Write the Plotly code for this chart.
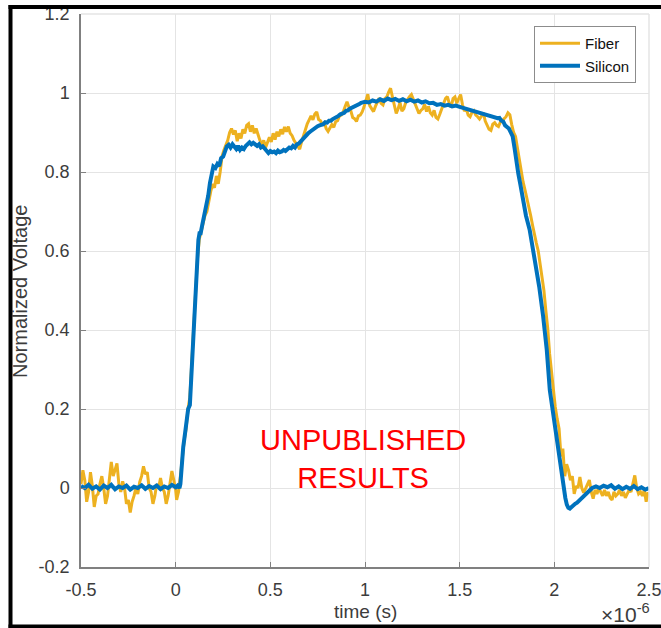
import plotly.graph_objects as go

# ---------------- data (time in microseconds, normalized voltage) ----------------
FIBER_BASELINE = [
    (-0.50, 0.010), (-0.49, 0.045), (-0.48, 0.020), (-0.47, -0.035), (-0.46, -0.010),
    (-0.45, 0.040), (-0.44, 0.005), (-0.43, -0.048), (-0.42, -0.020), (-0.41, -0.015),
    (-0.40, 0.010), (-0.39, 0.030), (-0.38, 0.000), (-0.37, -0.040), (-0.36, -0.020),
    (-0.35, 0.020), (-0.34, 0.066), (-0.33, 0.030), (-0.32, 0.045), (-0.31, 0.062),
    (-0.30, 0.010), (-0.29, -0.010), (-0.28, 0.017), (-0.27, 0.000), (-0.26, -0.040),
    (-0.25, -0.030), (-0.24, -0.062), (-0.23, -0.035), (-0.22, -0.020), (-0.21, 0.000),
    (-0.20, -0.015), (-0.19, 0.015), (-0.18, 0.030), (-0.17, 0.055), (-0.16, 0.035),
    (-0.15, 0.040), (-0.14, 0.000), (-0.13, -0.010), (-0.12, -0.040), (-0.11, -0.020),
    (-0.10, 0.010), (-0.09, 0.000), (-0.08, 0.025), (-0.07, 0.000), (-0.06, -0.010),
    (-0.05, -0.040), (-0.04, -0.020), (-0.03, 0.015), (-0.02, 0.043), (-0.01, 0.020),
    (0.000, -0.005), (0.005, -0.030), (0.015, -0.010),
]
FIBER_RISE = [
    (0.025, 0.030), (0.035, 0.080), (0.045, 0.120), (0.055, 0.150), (0.065, 0.200),
    (0.075, 0.230), (0.085, 0.320), (0.095, 0.400), (0.105, 0.500), (0.115, 0.580),
    (0.125, 0.630), (0.135, 0.650), (0.145, 0.670), (0.155, 0.690), (0.165, 0.700),
    (0.175, 0.730), (0.185, 0.750), (0.195, 0.770), (0.205, 0.760), (0.215, 0.790),
    (0.225, 0.770), (0.235, 0.800), (0.245, 0.840), (0.255, 0.856), (0.265, 0.870),
    (0.275, 0.880), (0.285, 0.900), (0.295, 0.910),
]
FIBER_PLATEAU = [
    (0.305, 0.895), (0.315, 0.905), (0.325, 0.878), (0.335, 0.898), (0.345, 0.885),
    (0.355, 0.908), (0.365, 0.898), (0.375, 0.918), (0.385, 0.922), (0.395, 0.902),
    (0.405, 0.918), (0.415, 0.898), (0.425, 0.910), (0.435, 0.892), (0.445, 0.880),
    (0.455, 0.870), (0.465, 0.880), (0.475, 0.862), (0.485, 0.878), (0.495, 0.888),
    (0.505, 0.876), (0.515, 0.898), (0.525, 0.882), (0.535, 0.902), (0.545, 0.890),
    (0.555, 0.908), (0.565, 0.896), (0.575, 0.914), (0.585, 0.902), (0.595, 0.915),
    (0.605, 0.898), (0.615, 0.892), (0.625, 0.880), (0.635, 0.872), (0.645, 0.866),
    (0.655, 0.858), (0.665, 0.876), (0.675, 0.892), (0.685, 0.906), (0.695, 0.922),
    (0.705, 0.932), (0.715, 0.942), (0.725, 0.932), (0.735, 0.947), (0.745, 0.952),
    (0.755, 0.933), (0.765, 0.930), (0.775, 0.918), (0.785, 0.926), (0.795, 0.910),
    (0.805, 0.903), (0.815, 0.912), (0.825, 0.920), (0.835, 0.913), (0.845, 0.927),
    (0.855, 0.930), (0.865, 0.942), (0.875, 0.944), (0.885, 0.952), (0.895, 0.966),
    (0.905, 0.978), (0.915, 0.964), (0.925, 0.955), (0.935, 0.938), (0.945, 0.935),
    (0.955, 0.928), (0.965, 0.942), (0.975, 0.944), (0.985, 0.952), (0.995, 0.965),
    (1.005, 0.985), (1.015, 0.997), (1.025, 0.968), (1.035, 0.960), (1.045, 0.953),
    (1.055, 0.966), (1.065, 0.975), (1.075, 0.987), (1.085, 0.974), (1.095, 0.970),
    (1.105, 0.986), (1.115, 0.990), (1.125, 1.002), (1.135, 1.012), (1.145, 0.990),
    (1.155, 0.964), (1.165, 0.948), (1.175, 0.960), (1.185, 0.976), (1.195, 0.954),
    (1.205, 0.960), (1.215, 0.976), (1.225, 0.985), (1.235, 0.991), (1.245, 0.996),
    (1.255, 0.984), (1.265, 0.970), (1.275, 0.958), (1.285, 0.948), (1.295, 0.956),
    (1.305, 0.960), (1.315, 0.971), (1.325, 0.953), (1.335, 0.966), (1.345, 0.950),
    (1.355, 0.944), (1.365, 0.956), (1.375, 0.938), (1.385, 0.934), (1.395, 0.946),
    (1.405, 0.960), (1.415, 0.971), (1.425, 0.986), (1.435, 0.991), (1.445, 0.974),
    (1.455, 0.964), (1.465, 0.986), (1.475, 0.990), (1.485, 0.974), (1.495, 0.986),
    (1.505, 0.996), (1.515, 0.970), (1.525, 0.954), (1.535, 0.960), (1.545, 0.944),
    (1.555, 0.940), (1.565, 0.951), (1.575, 0.955), (1.585, 0.944), (1.595, 0.940),
    (1.605, 0.934), (1.615, 0.941), (1.625, 0.950), (1.635, 0.929), (1.645, 0.920),
    (1.655, 0.908), (1.665, 0.905), (1.675, 0.921), (1.685, 0.925), (1.695, 0.918),
    (1.705, 0.915), (1.715, 0.926), (1.725, 0.930), (1.735, 0.936), (1.745, 0.940),
    (1.755, 0.950), (1.765, 0.945),
]
FIBER_FALL = [
    (1.775, 0.920), (1.785, 0.900), (1.795, 0.890), (1.805, 0.860), (1.815, 0.830),
    (1.825, 0.800), (1.835, 0.775), (1.845, 0.755), (1.855, 0.735), (1.865, 0.710),
    (1.875, 0.690), (1.885, 0.665), (1.895, 0.640), (1.905, 0.620), (1.915, 0.600),
    (1.925, 0.570), (1.935, 0.535), (1.945, 0.500), (1.955, 0.450), (1.965, 0.405),
    (1.975, 0.340), (1.985, 0.290), (1.995, 0.245), (2.005, 0.205), (2.015, 0.175),
    (2.025, 0.150), (2.035, 0.080), (2.045, 0.100),
]
FIBER_TAIL = [
    (2.055, 0.030), (2.065, 0.060), (2.075, 0.045), (2.085, 0.020), (2.095, 0.030),
    (2.105, -0.015), (2.115, 0.005), (2.125, 0.000), (2.135, 0.028), (2.145, 0.000),
    (2.155, -0.012), (2.165, 0.000), (2.175, 0.010), (2.185, 0.020), (2.195, -0.010),
    (2.205, -0.027), (2.215, -0.005), (2.225, -0.015), (2.235, 0.000), (2.245, -0.012),
    (2.255, -0.020), (2.265, -0.005), (2.275, -0.020), (2.285, -0.010), (2.295, -0.025),
    (2.305, -0.030), (2.315, -0.010), (2.325, -0.020), (2.335, -0.015), (2.345, -0.005),
    (2.355, -0.020), (2.365, -0.010), (2.375, -0.025), (2.385, -0.015), (2.395, -0.005),
    (2.405, -0.010), (2.415, 0.010), (2.425, 0.032), (2.435, 0.000), (2.445, -0.015),
    (2.455, -0.010), (2.465, -0.020), (2.475, -0.005), (2.485, -0.035), (2.495, -0.010),
]

SILICON_BASELINE = [
    (-0.50, 0.005), (-0.48, 0.000), (-0.46, 0.008), (-0.44, -0.002), (-0.42, 0.004),
    (-0.40, -0.004), (-0.38, 0.006), (-0.36, 0.000), (-0.34, 0.008), (-0.32, -0.003),
    (-0.30, 0.004), (-0.28, 0.000), (-0.26, 0.006), (-0.24, -0.004), (-0.22, 0.003),
    (-0.20, 0.000), (-0.18, 0.007), (-0.16, -0.002), (-0.14, 0.005), (-0.12, 0.000),
    (-0.10, 0.006), (-0.08, -0.003), (-0.06, 0.004), (-0.04, 0.000), (-0.02, 0.008),
    (0.00, 0.002), (0.01, 0.006), (0.02, 0.000), (0.025, 0.010),
]
SILICON_RISE = [
    (0.030, 0.050), (0.040, 0.104), (0.050, 0.140), (0.058, 0.180), (0.066, 0.200),
    (0.075, 0.210), (0.085, 0.300), (0.093, 0.390), (0.102, 0.480), (0.111, 0.560),
    (0.120, 0.628), (0.126, 0.645), (0.132, 0.645), (0.140, 0.665), (0.146, 0.679),
    (0.155, 0.690), (0.164, 0.712), (0.172, 0.740), (0.181, 0.772), (0.190, 0.790),
    (0.199, 0.814), (0.210, 0.810), (0.220, 0.820), (0.230, 0.815), (0.240, 0.835),
    (0.251, 0.839), (0.260, 0.855), (0.270, 0.865), (0.280, 0.869),
]
SILICON_PLATEAU = [
    (0.29, 0.862), (0.30, 0.870), (0.31, 0.864), (0.32, 0.858), (0.33, 0.866),
    (0.34, 0.856), (0.35, 0.862), (0.36, 0.858), (0.37, 0.866), (0.38, 0.870),
    (0.39, 0.875), (0.40, 0.870), (0.41, 0.874), (0.42, 0.870), (0.43, 0.866),
    (0.44, 0.870), (0.45, 0.862), (0.46, 0.865), (0.47, 0.858), (0.48, 0.855),
    (0.49, 0.848), (0.50, 0.853), (0.51, 0.850), (0.52, 0.852), (0.53, 0.848),
    (0.54, 0.854), (0.55, 0.850), (0.56, 0.852), (0.57, 0.856), (0.58, 0.853),
    (0.59, 0.858), (0.60, 0.862), (0.61, 0.860), (0.62, 0.866), (0.63, 0.862),
    (0.64, 0.870), (0.65, 0.872), (0.66, 0.878), (0.67, 0.882), (0.68, 0.888),
    (0.69, 0.893), (0.70, 0.898), (0.71, 0.902), (0.72, 0.906), (0.73, 0.910),
    (0.74, 0.912), (0.75, 0.916), (0.76, 0.918), (0.77, 0.920), (0.78, 0.921),
    (0.79, 0.926), (0.80, 0.925), (0.81, 0.930), (0.82, 0.930), (0.83, 0.934),
    (0.84, 0.936), (0.85, 0.940), (0.86, 0.942), (0.87, 0.946), (0.88, 0.948),
    (0.89, 0.950), (0.90, 0.955), (0.91, 0.956), (0.92, 0.960), (0.93, 0.962),
    (0.94, 0.965), (0.95, 0.968), (0.96, 0.970), (0.97, 0.972), (0.98, 0.975),
    (0.99, 0.976), (1.00, 0.978), (1.02, 0.976), (1.04, 0.981), (1.06, 0.978),
    (1.08, 0.984), (1.10, 0.980), (1.12, 0.986), (1.14, 0.982), (1.16, 0.985),
    (1.18, 0.980), (1.20, 0.984), (1.22, 0.979), (1.24, 0.983), (1.26, 0.978),
    (1.28, 0.981), (1.30, 0.976), (1.32, 0.979), (1.34, 0.974), (1.36, 0.975),
    (1.38, 0.970), (1.40, 0.972), (1.42, 0.968), (1.44, 0.970), (1.46, 0.966),
    (1.48, 0.968), (1.50, 0.965), (1.52, 0.962), (1.54, 0.960), (1.56, 0.958),
    (1.58, 0.954), (1.60, 0.952), (1.62, 0.948), (1.64, 0.946), (1.66, 0.942),
    (1.68, 0.940), (1.70, 0.936), (1.71, 0.937), (1.72, 0.930), (1.73, 0.928),
    (1.74, 0.918), (1.75, 0.914), (1.76, 0.910), (1.77, 0.900),
]
SILICON_FALL = [
    (1.780, 0.890), (1.790, 0.860), (1.800, 0.822), (1.810, 0.795), (1.820, 0.770),
    (1.835, 0.730), (1.850, 0.690), (1.870, 0.653), (1.890, 0.600), (1.906, 0.560),
    (1.920, 0.510), (1.941, 0.434), (1.960, 0.350), (1.976, 0.248), (1.990, 0.200),
    (2.002, 0.155), (2.015, 0.115), (2.029, 0.079), (2.040, 0.030), (2.050, 0.000),
]
SILICON_TAIL = [
    (2.058, -0.025), (2.066, -0.042), (2.074, -0.050), (2.082, -0.052), (2.090, -0.048),
    (2.100, -0.045), (2.110, -0.040), (2.120, -0.037), (2.130, -0.032), (2.140, -0.028),
    (2.150, -0.022), (2.160, -0.018), (2.170, -0.012), (2.180, -0.008), (2.190, -0.004),
    (2.200, 0.000), (2.220, 0.004), (2.240, 0.000), (2.260, 0.006), (2.280, 0.002),
    (2.300, 0.007), (2.320, -0.002), (2.340, 0.004), (2.360, -0.003), (2.380, 0.003),
    (2.400, -0.002), (2.420, 0.005), (2.440, -0.003), (2.460, 0.002), (2.480, -0.004),
    (2.500, 0.000),
]

X_TICKS_US = [-0.5, 0, 0.5, 1, 1.5, 2, 2.5]
X_TICK_TEXT = ["-0.5", "0", "0.5", "1", "1.5", "2", "2.5"]
Y_TICKS = [-0.2, 0, 0.2, 0.4, 0.6, 0.8, 1.0, 1.2]
Y_TICK_TEXT = ["-0.2", "0", "0.2", "0.4", "0.6", "0.8", "1", "1.2"]

fiber = FIBER_BASELINE + FIBER_RISE + FIBER_PLATEAU + FIBER_FALL + FIBER_TAIL
silicon = SILICON_BASELINE + SILICON_RISE + SILICON_PLATEAU + SILICON_FALL + SILICON_TAIL

# ---------------- layout geometry (pixels) ----------------
W, H = 661, 628
L, R, T, B = 81, 12, 14, 61
PW, PH = W - L - R, H - T - B


def px(x):
    return (x - L) / PW


def py(y):
    return (H - B - y) / PH


FONT = "Liberation Sans, Arial, sans-serif"
TXT = "#3c3c3c"
GRID = "#e4e4e4"

fig = go.Figure()
fig.add_trace(go.Scatter(
    x=[p[0] * 1e-6 for p in fiber], y=[p[1] for p in fiber],
    mode="lines", name="Fiber", line=dict(color="#EDB120", width=3)))
fig.add_trace(go.Scatter(
    x=[p[0] * 1e-6 for p in silicon], y=[p[1] for p in silicon],
    mode="lines", name="Silicon", line=dict(color="#0072BD", width=4)))

fig.update_layout(
    width=W, height=H,
    margin=dict(l=L, r=R, t=T, b=B, pad=0, autoexpand=False),
    paper_bgcolor="white", plot_bgcolor="white",
    font=dict(family=FONT, size=17, color=TXT),
    showlegend=True,
    legend=dict(
        x=px(636), y=py(26), xanchor="right", yanchor="top",
        bgcolor="white", bordercolor="#8c8c8c", borderwidth=1,
        font=dict(family=FONT, size=15, color="#111111"),
        tracegroupgap=0, itemwidth=40,
    ),
    xaxis=dict(
        range=[-0.5e-6, 2.5e-6], automargin=False,
        tickvals=[round(v * 1e-6, 12) for v in X_TICKS_US], ticktext=X_TICK_TEXT,
        ticks="inside", ticklen=5, tickcolor="#808080",
        showline=True, linecolor="#808080", linewidth=1.5,
        showgrid=True, gridcolor=GRID, gridwidth=1,
        zeroline=False, ticklabelstandoff=6, ticklabeloverflow="allow",
        tickfont=dict(size=18, color=TXT),
    ),
    yaxis=dict(
        range=[-0.2, 1.2], automargin=False,
        tickvals=Y_TICKS, ticktext=Y_TICK_TEXT,
        ticks="inside", ticklen=5, tickcolor="#808080",
        showline=True, linecolor="#808080", linewidth=1.5,
        showgrid=True, gridcolor=GRID, gridwidth=1,
        zeroline=False, ticklabelstandoff=6, ticklabeloverflow="allow",
        tickfont=dict(size=18, color=TXT),
    ),
    shapes=[
        dict(type="line", xref="paper", yref="paper", x0=0, x1=1, y0=1, y1=1,
             line=dict(color=GRID, width=1.5)),
        dict(type="line", xref="paper", yref="paper", x0=1, x1=1, y0=0, y1=1,
             line=dict(color=GRID, width=1.5)),
        # black outer frame (left, top, bottom)
        dict(type="line", xref="paper", yref="paper",
             x0=px(10.5), x1=px(10.5), y0=py(628), y1=py(5),
             line=dict(color="black", width=4)),
        dict(type="line", xref="paper", yref="paper",
             x0=px(8.5), x1=px(661), y0=py(7), y1=py(7),
             line=dict(color="black", width=4)),
        dict(type="line", xref="paper", yref="paper",
             x0=px(8.5), x1=px(661), y0=py(626.5), y1=py(626.5),
             line=dict(color="black", width=4)),
    ],
    annotations=[
        dict(text="Normalized Voltage", x=px(20), y=py(292), xref="paper", yref="paper",
             textangle=-90, showarrow=False, xanchor="center", yanchor="middle",
             font=dict(size=20, color=TXT)),
        dict(text="time (s)", x=px(365), y=py(611), xref="paper", yref="paper",
             showarrow=False, xanchor="center", yanchor="middle",
             font=dict(size=19, color=TXT)),
        dict(text="\u00d710<sup>-6</sup>", x=px(652), y=py(613), xref="paper", yref="paper",
             showarrow=False, xanchor="right", yanchor="middle",
             font=dict(size=21, color=TXT)),
        dict(text="UNPUBLISHED<br>RESULTS", x=px(363), y=py(459), xref="paper", yref="paper",
             showarrow=False, xanchor="center", yanchor="middle",
             font=dict(size=29, color="#ff0000")),
    ],
)

fig.write_html("out.html")
